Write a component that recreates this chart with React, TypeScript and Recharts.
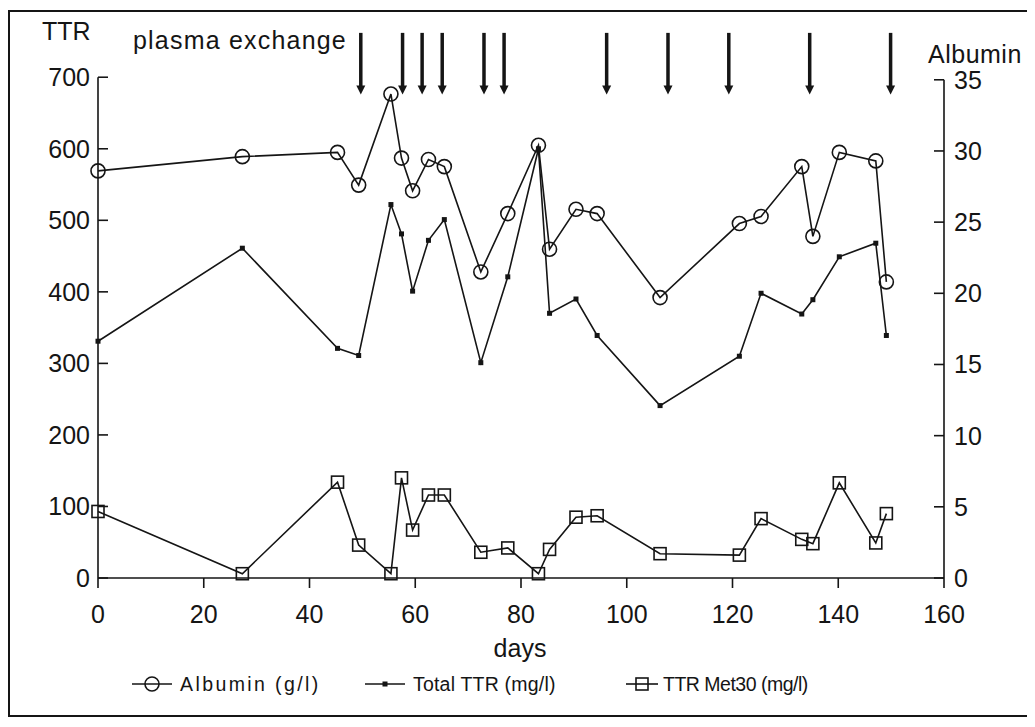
import { ComposedChart, Legend, Line, ReferenceLine, XAxis, YAxis } from "recharts";

// sampling days shared by the three measurements
const days = [0, 27.3, 45.3, 49.3, 55.4, 57.4, 59.5, 62.5, 65.5, 72.4, 77.5, 83.3, 85.4, 90.4, 94.4, 106.3, 121.3, 125.4, 133.1, 135.2, 140.2, 147.1, 149.1];
const albumin = [28.6, 29.6, 29.9, 27.6, 34.0, 29.5, 27.2, 29.4, 28.9, 21.5, 25.6, 30.4, 23.1, 25.9, 25.6, 19.7, 24.9, 25.4, 28.9, 24.0, 29.9, 29.3, 20.8];
const totalTtr = [331, 461, 321, 311, 522, 481, 401, 472, 501, 301, 421, 600, 370, 390, 339, 241, 310, 398, 369, 389, 449, 468, 339];
const ttrMet30 = [93, 6, 134, 46, 6, 140, 67, 116, 116, 36, 42, 6, 40, 85, 87, 34, 32, 83, 54, 48, 133, 49, 90];

const plasmaExchangeDays = [49.7, 57.6, 61.3, 65.1, 73.0, 76.8, 96.2, 107.8, 119.3, 134.6, 149.9];
const arrowTop = 762;
const arrowTip = 676;

const dayTicks = [0, 20, 40, 60, 80, 100, 120, 140, 160];
const ttrTicks = [0, 100, 200, 300, 400, 500, 600, 700];
const albuminTicks = [0, 5, 10, 15, 20, 25, 30, 35];

const rows = days.map((day, i) => ({
  day,
  albumin: albumin[i],
  totalTtr: totalTtr[i],
  ttrMet30: ttrMet30[i]
}));

const INK = "#151515";
const FONT = "'Liberation Sans', Arial, Helvetica, sans-serif";
const tickFont = { fill: INK, fontSize: 25, fontFamily: FONT };

function LeftTick({ x, y, payload }: any) {
  const axisX = x + 8;
  return (
    <g>
      <line x1={axisX} x2={axisX + 10} y1={y} y2={y} stroke={INK} strokeWidth={1.6} />
      <text x={x} y={y} dy="0.36em" textAnchor="end" {...tickFont}>
        {payload.value}
      </text>
    </g>
  );
}

function RightTick({ x, y, payload }: any) {
  const axisX = x - 10;
  return (
    <g>
      <line x1={axisX - 10} x2={axisX} y1={y} y2={y} stroke={INK} strokeWidth={1.6} />
      <text x={x} y={y} dy="0.36em" textAnchor="start" {...tickFont}>
        {payload.value}
      </text>
    </g>
  );
}

function ArrowShape({ x1, y1, x2, y2 }: any) {
  return (
    <g>
      <line x1={x1} y1={y1} x2={x2} y2={y2 - 6} stroke={INK} strokeWidth={3.5} />
      <path d={`M${x2 - 4.5},${y2 - 9} L${x2 + 4.5},${y2 - 9} L${x2},${y2} Z`} fill={INK} />
    </g>
  );
}

function TtrDot({ cx, cy }: any) {
  if (cx == null || cy == null) return null;
  return <rect x={cx - 2.5} y={cy - 2.5} width={5} height={5} fill={INK} />;
}

function Met30Dot({ cx, cy }: any) {
  if (cx == null || cy == null) return null;
  return <rect x={cx - 6} y={cy - 6} width={12} height={12} fill="none" stroke={INK} strokeWidth={1.6} />;
}

const legendSlots: Record<string, { sym: number; w: number; text: number; spacing: number }> = {
  albumin: { sym: 124, w: 40, text: 172, spacing: 2.4 },
  totalTtr: { sym: 357, w: 40, text: 405, spacing: 0.2 },
  ttrMet30: { sym: 618, w: 32, text: 655, spacing: -0.5 }
};

function LegendIcon({ kind, w }: { kind: string; w: number }) {
  const c = w / 2;
  return (
    <svg width={w} height={24} style={{ position: "absolute", top: 0, left: 0 }}>
      <line x1={0} x2={w} y1={12} y2={12} stroke={INK} strokeWidth={1.6} />
      {kind === "albumin" && <circle cx={c} cy={12} r={7} fill="none" stroke={INK} strokeWidth={1.6} />}
      {kind === "totalTtr" && <rect x={c - 2.5} y={9.5} width={5} height={5} fill={INK} />}
      {kind === "ttrMet30" && <rect x={c - 6} y={6} width={12} height={12} fill="none" stroke={INK} strokeWidth={1.6} />}
    </svg>
  );
}

function LegendContent({ payload }: any) {
  return (
    <div style={{ position: "relative", width: 1019, height: 24 }}>
      {(payload || []).map((item: any) => {
        const key = String(item.dataKey);
        const slot = legendSlots[key];
        if (!slot) return null;
        return (
          <div key={key}>
            <div style={{ position: "absolute", left: slot.sym, top: 0, width: slot.w, height: 24 }}>
              <LegendIcon kind={key} w={slot.w} />
            </div>
            <span
              style={{
                position: "absolute",
                left: slot.text,
                top: 0,
                lineHeight: "24px",
                fontSize: 19.5,
                letterSpacing: slot.spacing,
                fontFamily: FONT,
                color: INK,
                whiteSpace: "nowrap"
              }}
            >
              {item.value}
            </span>
          </div>
        );
      })}
    </div>
  );
}

const textStyle = {
  position: "absolute" as const,
  fontFamily: FONT,
  fontSize: 25,
  lineHeight: "25px",
  color: INK,
  whiteSpace: "nowrap" as const
};

export default function App() {
  return (
    <div style={{ position: "relative", width: 1019, height: 711, background: "#fff", fontFamily: FONT }}>
      <div
        style={{
          position: "absolute",
          left: 0,
          top: 2,
          width: 1022,
          height: 707,
          border: `2px solid ${INK}`,
          boxSizing: "border-box",
          pointerEvents: "none"
        }}
      />
      <ComposedChart width={1019} height={711} data={rows} margin={{ top: 12, right: 20, bottom: 57, left: 20 }}>
        <XAxis
          type="number"
          dataKey="day"
          domain={[0, 160]}
          ticks={dayTicks}
          tick={tickFont}
          tickSize={10}
          tickMargin={17}
          height={60}
          stroke={INK}
          strokeWidth={1.6}
        />
        <YAxis
          yAxisId="left"
          domain={[0, 780]}
          ticks={ttrTicks}
          width={70}
          axisLine={false}
          tickLine={false}
          tickSize={0}
          tickMargin={8}
          tick={<LeftTick />}
        />
        <YAxis
          yAxisId="right"
          orientation="right"
          domain={[0, 39.2]}
          ticks={albuminTicks}
          width={63}
          axisLine={false}
          tickLine={false}
          tickSize={0}
          tickMargin={10}
          tick={<RightTick />}
        />
        <ReferenceLine
          yAxisId="left"
          segment={[{ x: 0, y: 0 }, { x: 0, y: 700 }]}
          stroke={INK}
          strokeWidth={1.6}
        />
        <ReferenceLine
          yAxisId="right"
          segment={[{ x: 160, y: 0 }, { x: 160, y: 35 }]}
          stroke={INK}
          strokeWidth={1.6}
        />
        {plasmaExchangeDays.map((d) => (
          <ReferenceLine
            key={d}
            yAxisId="left"
            segment={[{ x: d, y: arrowTop }, { x: d, y: arrowTip }]}
            shape={<ArrowShape />}
          />
        ))}
        <Line
          yAxisId="left"
          type="linear"
          dataKey="totalTtr"
          name="Total TTR (mg/l)"
          stroke={INK}
          strokeWidth={1.6}
          dot={<TtrDot />}
          activeDot={false}
          isAnimationActive={false}
        />
        <Line
          yAxisId="left"
          type="linear"
          dataKey="ttrMet30"
          name="TTR Met30 (mg/l)"
          stroke={INK}
          strokeWidth={1.6}
          dot={<Met30Dot />}
          activeDot={false}
          isAnimationActive={false}
        />
        <Line
          yAxisId="right"
          type="linear"
          dataKey="albumin"
          name="Albumin (g/l)"
          stroke={INK}
          strokeWidth={1.6}
          dot={{ r: 7, fill: "none", stroke: INK, strokeWidth: 1.6 }}
          activeDot={false}
          isAnimationActive={false}
        />
        <Legend
          verticalAlign="bottom"
          height={24}
          content={<LegendContent />}
          wrapperStyle={{ position: "absolute", top: 664, left: 0, bottom: "auto", width: 1019, height: 24 }}
        />
      </ComposedChart>
      <div style={{ ...textStyle, left: 34, top: 11 }}>TTR</div>
      <div style={{ ...textStyle, left: 125, top: 20, letterSpacing: 1.2 }}>plasma exchange</div>
      <div style={{ ...textStyle, left: 920, top: 34, letterSpacing: 0.5 }}>Albumin</div>
      <div style={{ ...textStyle, left: 512, top: 628, transform: "translateX(-50%)" }}>days</div>
    </div>
  );
}
